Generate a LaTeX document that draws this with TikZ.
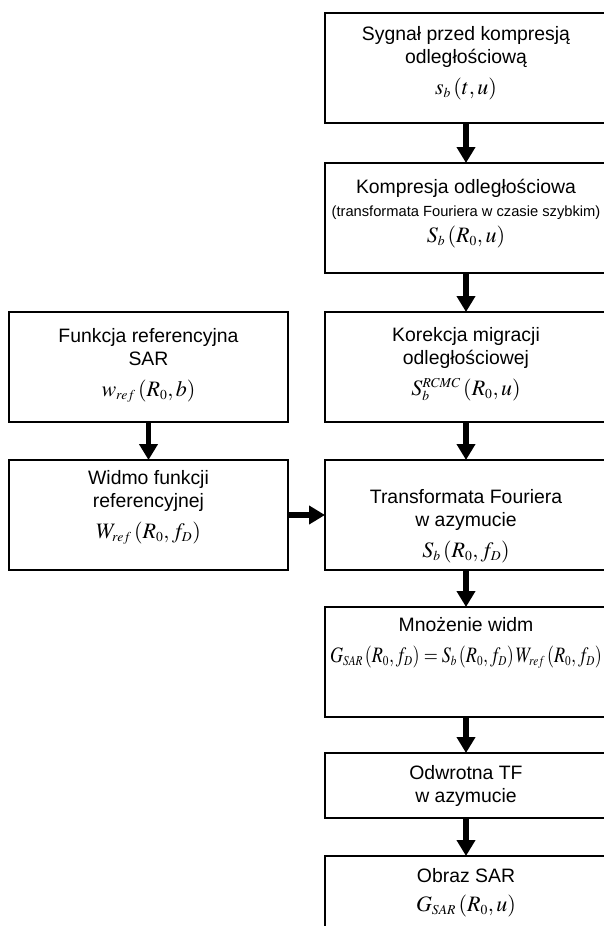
\documentclass[tikz,border=0pt]{standalone}
\usepackage{amsmath}
\usepackage{mathptmx}
\usepackage[no-math]{fontspec}
\setmainfont{Liberation Sans}
\usepackage{tikz}
\usetikzlibrary{positioning,arrows.meta}

\renewcommand{\defaultscriptratio}{.62}
\tikzset{
  box/.style={draw, line width=1.8pt, minimum width=282pt, minimum height=110pt, inner sep=0pt, outer sep=0pt},
  lbox/.style={box, minimum width=279pt},
  txt/.style={align=center, inner sep=0pt, font=\fontsize{19.4}{23}\selectfont},
  flow/.style={-{Triangle[width=18pt,length=16pt]}, line width=5.5pt},
}
\newcommand{\smalltxt}[1]{{\fontsize{14.7}{17}\selectfont #1}}
\newcommand{\fx}[1]{{\fontsize{22}{23}\selectfont$#1$}}

\begin{document}
\begin{tikzpicture}[x=1pt, y=1pt]
            \useasboundingbox (0,0) rectangle (604,-926);
            \clip (0,0) rectangle (604,-926);

            \node (sygnal) [box] at (466,-68) {};
            \node (kompr) [box, below=40pt of sygnal] {};
            \node (korekcja) [box, below=39pt of kompr] {};
            \node (transf) [box, below=38pt of korekcja] {};
            \node (mnozenie) [box, below=37pt of transf] {};
            \node (odwrotna) [box, minimum height=65pt, below=36pt of mnozenie] {};
            \node (obraz) [box, below=38pt of odwrotna] {};
            \node (funkcja) [lbox, left=37pt of korekcja] {};
            \node (widmo) [lbox, below=38pt of funkcja] {};

            \node (sygnal-t) [txt, below=13pt of sygnal.north] {Sygnał przed kompresją\\odległościową\\[8pt]\fx{s_b\left(t,u\right)}};
            \node (kompr-t) [txt, below=16pt of kompr.north] {Kompresja odległościowa\\\smalltxt{(transformata Fouriera w czasie szybkim)}\\[3pt]\fx{S_b\left(R_0,u\right)}};
            \node (korekcja-t) [txt, below=15pt of korekcja.north] {Korekcja migracji\\odległościowej\\[8pt]\fx{S_b^{RCMC}\left(R_0,u\right)}};
            \node (transf-t) [txt, below=29pt of transf.north] {Transformata Fouriera\\w azymucie\\[8pt]\fx{S_b\left(R_0,f_D\right)}};
            \node (mnozenie-t) [txt, below=10pt of mnozenie.north] {Mnożenie widm\\[8pt]\resizebox{272pt}{\height}{\fx{G_{SAR}\left(R_0,f_D\right)=S_b\left(R_0,f_D\right)W_{ref}\left(R_0,f_D\right)}}};
            \node (odwrotna-t) [txt] at (odwrotna) {Odwrotna TF\\w azymucie};
            \node (obraz-t) [txt, below=12pt of obraz.north] {Obraz SAR\\[6pt]\fx{G_{SAR}\left(R_0,u\right)}};
            \node (funkcja-t) [txt, below=16pt of funkcja.north] {Funkcja referencyjna\\SAR\\[8pt]\fx{w_{ref}\left(R_0,b\right)}};
            \node (widmo-t) [txt, below=10pt of widmo.north] {Widmo funkcji\\referencyjnej\\[8pt]\fx{W_{ref}\left(R_0,f_D\right)}};

            \draw[flow] (sygnal) -- (kompr);
            \draw[flow] (kompr) -- (korekcja);
            \draw[flow] (korekcja) -- (transf);
            \draw[flow] (transf) -- (mnozenie);
            \draw[flow] (mnozenie) -- (odwrotna);
            \draw[flow] (odwrotna) -- (obraz);
            \draw[flow] (funkcja) -- (widmo);
            \draw[flow] (widmo) -- (transf);
        \end{tikzpicture}
\end{document}
